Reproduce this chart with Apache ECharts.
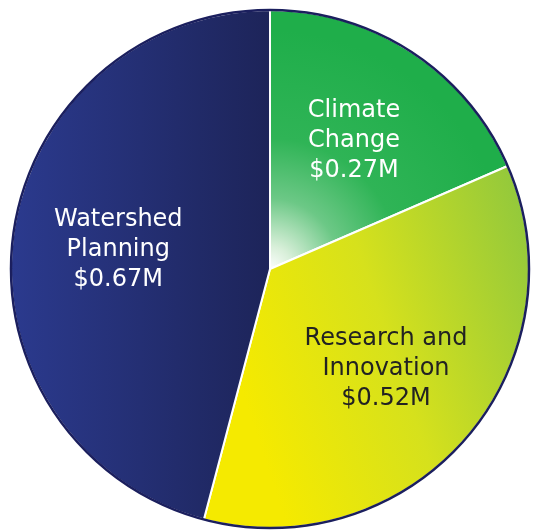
<!DOCTYPE html>
<html>
<head>
<meta charset="utf-8">
<script src="https://cdn.jsdelivr.net/npm/echarts@6/dist/echarts.min.js"></script>
<style>
html,body{margin:0;padding:0;background:#fff;}
#chart{width:533px;height:532px;}
</style>
</head>
<body>
<div id="chart"></div>
<script>
const categories = ["Climate\nChange", "Research and\nInnovation", "Watershed\nPlanning"];
const values = [0.27, 0.52, 0.67];
const valueLabels = ["$0.27M", "$0.52M", "$0.67M"];

const fills = [
  {type:'radial', x:0, y:1, r:1, colorStops:[
    {offset:0, color:'#ffffff'},
    {offset:0.1, color:'#d8efd9'},
    {offset:0.3, color:'#6cc886'},
    {offset:0.55, color:'#2fb456'},
    {offset:1, color:'#1fae4a'}]},
  {type:'linear', x:0, y:0.3, x2:1, y2:0, colorStops:[
    {offset:0, color:'#f5ea00'},
    {offset:0.45, color:'#d6e11c'},
    {offset:1, color:'#8cc63f'}]},
  {type:'linear', x:0, y:0, x2:1, y2:0, colorStops:[
    {offset:0, color:'#2b3a8e'},
    {offset:1, color:'#1d2459'}]}
];
const textColors = ['#ffffff', '#222222', '#ffffff'];

const chart = echarts.init(document.getElementById('chart'));
const center = [270, 269];
chart.setOption({
  backgroundColor: '#ffffff',
  animation: false,
  series: [
    {
      type: 'pie', center: center, radius: [0, 259], startAngle: 90, clockwise: true,
      silent: true,
      data: values.map((v, i) => ({value: v, name: categories[i],
        itemStyle: {color: fills[i], borderColor: '#ffffff', borderWidth: 2}})),
      label: {show: false}, labelLine: {show: false}
    },
    {
      type: 'pie', center: center, radius: [0, 259], silent: true,
      data: [{value: 1, itemStyle: {color: 'transparent', borderColor: '#1b1f5e', borderWidth: 2.5}}],
      label: {show: false}, labelLine: {show: false}
    },
    {
      type: 'pie', center: center, radius: [40, 260], startAngle: 90, clockwise: true,
      silent: true,
      data: values.map((v, i) => ({value: v, name: categories[i],
        itemStyle: {color: 'transparent', borderWidth: 0},
        label: {color: textColors[i]}})),
      label: {
        show: true, position: 'inner',
        formatter: p => p.name + '\n' + valueLabels[p.dataIndex],
        fontFamily: 'DejaVu Sans', fontSize: 24, lineHeight: 30, align: 'center'
      },
      labelLine: {show: false}
    }
  ]
});
</script>
</body>
</html>
